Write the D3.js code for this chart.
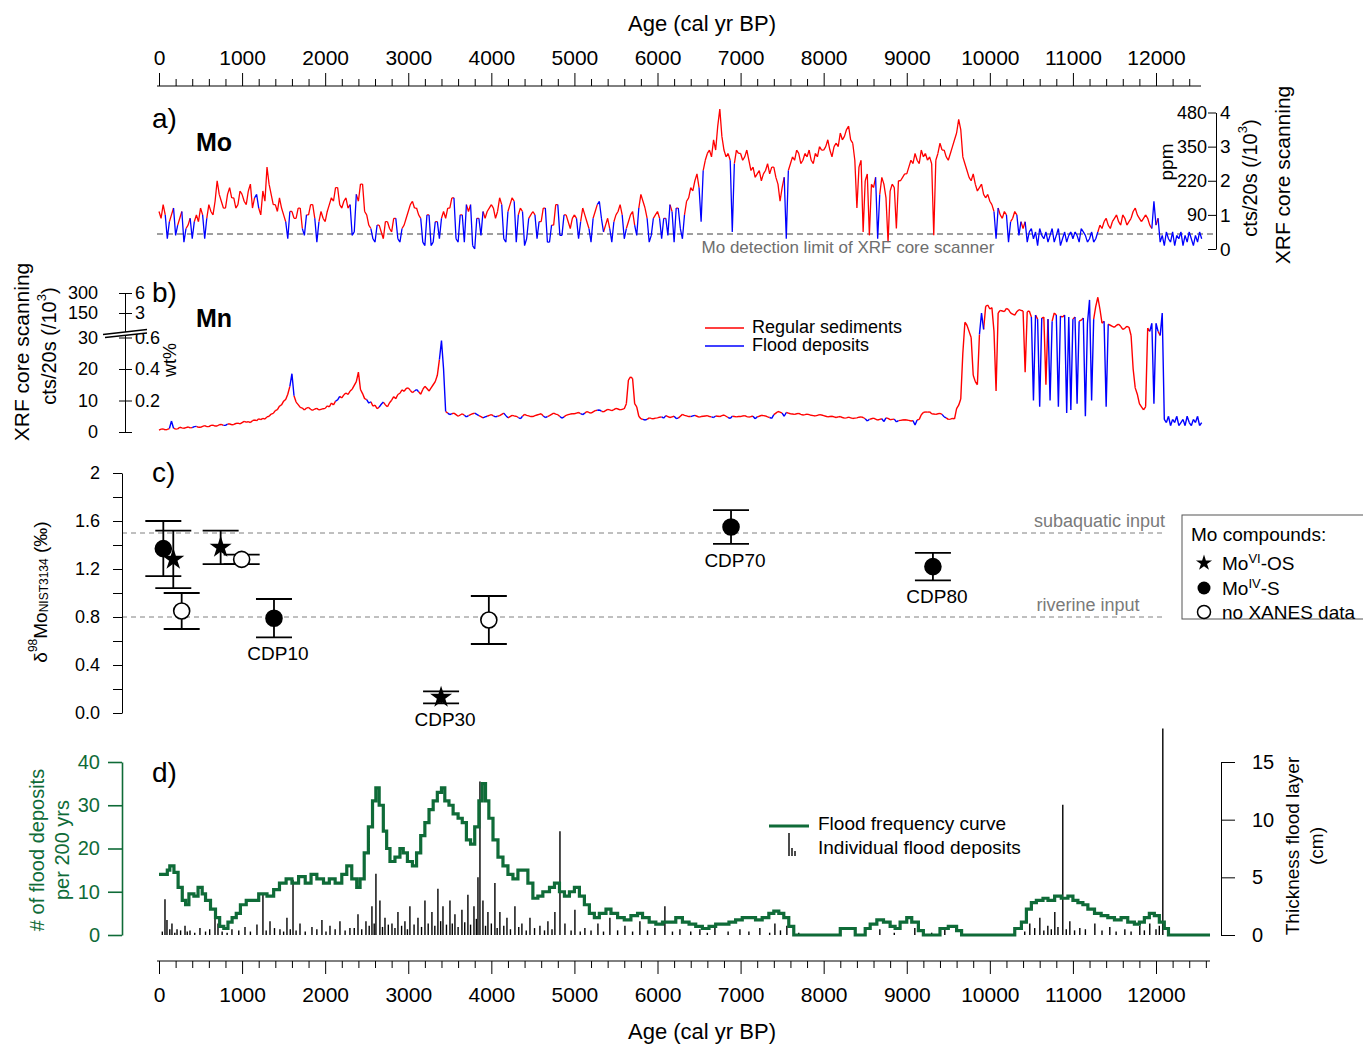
<!DOCTYPE html>
<html>
<head>
<meta charset="utf-8">
<script src="https://cdn.jsdelivr.net/npm/d3@7"></script>
<style>
  body { margin: 0; background: #fff; }
  text { font-family: "Liberation Sans", Arial, Helvetica, sans-serif; }
</style>
</head>
<body>
<div id="chart"></div>
<script>
// ---------- data ----------
const ageMajor = [0, 1000, 2000, 3000, 4000, 5000, 6000, 7000, 8000, 9000, 10000, 11000, 12000];
const sampleStep = 25; // XRF series read every 25 yr from 0 cal yr BP

// Mo counts (x1000 cts/20s), one line per 1000 yr
const moCounts = [
  1.1,0.9,1.3,1.0,0.3,0.8,1.0,1.2,0.4,0.7, 0.9,1.1,0.2,0.6,0.7,0.9,0.3,0.8,1.0,0.8, 1.2,1.0,0.3,0.9,1.3,1.1,1.0,1.4,2.0,1.6, 1.4,1.2,1.2,1.6,1.8,1.5,1.5,1.2,1.3,1.7,
  1.6,1.4,1.3,1.7,1.9,1.2,1.5,1.6,1.2,1.0, 1.7,1.4,2.4,1.9,1.6,1.3,1.3,1.1,1.5,1.2, 1.0,0.8,0.3,1.1,1.1,0.9,0.9,1.2,1.2,0.6, 0.4,1.0,1.0,1.3,1.3,0.9,0.2,0.8,1.1,0.9,
  0.8,1.1,1.3,1.5,1.4,1.8,1.8,1.3,1.2,1.4, 1.5,1.2,1.3,0.4,0.5,1.6,1.4,1.9,1.9,1.1, 1.0,0.7,0.6,0.3,0.2,0.7,0.7,0.5,0.3,0.8, 0.8,0.6,0.5,0.9,0.9,0.3,0.2,0.6,0.7,0.9,
  1.1,1.3,1.4,1.2,1.2,1.0,0.9,0.2,0.1,1.0, 1.0,0.1,0.2,0.8,0.8,0.3,0.9,1.1,0.9,1.2, 1.2,1.5,1.5,0.3,0.2,1.0,1.0,0.2,1.3,1.1, 1.3,0.1,0.0,0.9,0.9,0.4,1.1,0.9,1.1,1.2,
  1.3,1.2,0.9,1.1,1.5,1.3,0.3,0.2,1.1,1.3, 1.5,1.4,0.2,1.0,1.2,1.1,0.1,0.3,0.9,1.0, 1.1,1.0,0.3,0.8,0.8,1.2,1.2,0.2,0.2,0.7, 0.7,1.3,1.3,0.4,0.4,1.0,1.0,0.8,0.6,0.9,
  1.0,0.9,0.3,0.8,1.2,1.0,0.8,0.6,0.2,0.9, 1.1,1.3,1.4,0.9,0.5,0.7,0.9,0.6,0.2,0.8, 1.0,1.1,1.3,1.0,0.3,0.6,0.8,1.0,1.1,0.7, 0.4,1.2,1.6,1.4,1.2,0.9,0.2,0.4,0.9,1.0,
  1.1,0.9,0.3,0.9,0.9,0.4,1.3,1.1,0.2,1.2, 1.2,0.6,0.3,1.0,1.4,1.5,1.8,1.7,2.0,2.2, 1.8,0.8,2.3,2.6,2.8,2.9,2.7,3.2,2.9,3.6, 4.1,3.3,2.9,2.7,2.8,2.6,0.5,2.5,2.9,2.8,
  2.8,2.6,2.7,2.9,2.6,2.3,2.4,2.1,2.2,2.3, 2.0,2.2,2.3,2.5,2.2,2.4,2.4,2.1,1.9,1.4, 1.8,2.1,0.3,2.3,2.5,2.7,2.6,2.9,2.8,2.5, 2.6,2.8,2.7,2.9,2.6,2.5,2.8,2.7,3.0,2.9,
  2.9,3.0,3.2,2.9,2.7,3.0,3.1,3.0,3.4,3.2, 3.3,3.5,3.6,3.2,3.1,2.6,1.2,2.4,2.6,0.5, 2.0,2.2,0.4,1.9,1.8,2.1,0.3,1.6,2.1,1.9, 1.5,0.2,1.7,1.9,1.8,0.6,2.0,2.0,2.1,2.2,
  2.2,2.4,2.6,2.5,2.8,2.6,2.5,2.9,2.7,2.8, 2.6,2.7,2.5,0.4,2.6,2.8,3.1,2.9,2.9,2.7, 2.6,2.8,3.0,3.2,3.4,3.8,3.5,2.7,2.5,2.3, 2.1,2.0,2.2,1.9,1.7,1.8,1.9,1.6,1.5,1.6,
  1.4,1.3,1.1,0.3,1.2,1.0,0.9,1.1,1.0,0.2, 0.8,0.9,1.1,1.0,0.4,0.8,0.6,0.8,0.2,0.5, 0.6,0.3,0.5,0.1,0.6,0.4,0.3,0.5,0.2,0.4, 0.6,0.2,0.4,0.6,0.1,0.3,0.5,0.2,0.4,0.5,
  0.3,0.5,0.4,0.2,0.6,0.5,0.4,0.2,0.3,0.5, 0.2,0.3,0.5,0.7,0.6,0.8,0.9,0.7,0.6,0.8, 0.9,1.0,0.8,0.7,1.0,0.9,0.7,0.8,0.9,1.1, 1.2,1.0,0.9,0.8,0.9,1.0,0.9,0.7,0.6,1.4,
  0.7,0.9,0.2,0.4,0.1,0.5,0.3,0.2,0.5,0.1, 0.4,0.3,0.5,0.1,0.4,0.2,0.5,0.3,0.1,0.4, 0.2,0.5,0.3
];
// 1 = sample from a flood deposit
const moFlood =
  "0000100010" + "0010001000" + "0010000000" + "0000000000" +
  "0000000100" + "0000000000" + "0010000000" + "1000001000" +
  "0000000000" + "0001100000" + "0001100000" + "0000011000" +
  "0000000110" + "0110010000" + "0001100100" + "0110010000" +
  "0000001100" + "0010001100" + "0010000110" + "0001100000" +
  "0010000010" + "0011000010" + "0000100000" + "1000001100" +
  "0010010010" + "0110000000" + "0100000000" + "0000001000" +
  "0000000000" + "0000000000" + "0010000000" + "0000000000" +
  "0000000000" + "0000000000" + "0000001000" + "0000000000" +
  "0000000000" + "0000000000" + "0000000000" + "0000000000" +
  "0001000001" + "0000100010" + "1101110111" + "1110111011" +
  "1101111011" + "1100000000" + "0000000000" + "0000000001" +
  "0011111111" + "1111111111" + "111";

// Mn counts (x1000 cts/20s)
const mnCounts = [
  0.6,0.9,1.0,0.7,0.8,1.1,3.5,1.2,0.9,1.0, 1.5,1.3,1.2,1.4,1.6,1.3,1.4,1.7,1.8,1.5, 1.5,1.8,2.0,1.7,1.7,2.1,2.2,1.9,1.9,2.3, 2.4,2.1,2.1,2.5,2.6,2.3,2.4,2.7,2.8,2.6,
  3.0,3.4,3.1,3.3,3.0,3.6,3.8,3.6,4.2,3.9, 4.3,4.1,4.8,5.0,5.7,5.9,6.8,7.1,8.2,8.6, 9.8,10.3,12.0,14.5,18.5,11.5,9.5,8.7,7.8,7.6, 7.0,7.6,7.8,7.2,6.9,7.3,7.5,7.0,7.2,7.4,
  7.5,8.3,8.0,9.2,8.6,9.8,10.2,11.3,10.8,11.8, 12.4,11.9,13.0,13.6,14.8,16.0,19.0,13.5,12.2,10.6, 10.3,9.2,9.6,8.2,8.5,7.4,7.9,8.8,9.5,8.6, 8.0,9.3,10.1,11.2,10.6,11.9,12.3,13.4,12.9,13.8,
  14.0,13.2,12.5,13.0,13.5,12.8,12.0,13.5,14.5,13.8, 13.0,14.0,15.0,16.0,18.0,23.0,29.0,20.0,6.5,6.0, 5.5,5.8,6.0,5.5,5.0,5.4,5.8,5.3,4.8,5.2, 5.5,5.8,6.0,5.6,5.2,4.9,4.5,4.8,5.0,5.3,
  5.5,5.1,4.8,5.0,5.2,5.6,6.0,5.2,4.5,4.9, 5.3,5.1,5.0,4.6,4.2,5.0,5.6,5.3,5.1,4.9, 4.9,5.2,5.4,5.6,5.8,5.1,4.6,4.9,5.2,5.6, 6.0,5.7,5.5,4.9,4.4,4.8,5.3,5.5,5.7,5.8,
  5.8,6.0,6.2,5.8,5.5,6.0,6.5,6.2,6.0,6.4, 6.8,6.9,7.0,6.6,6.4,6.8,7.2,7.0,6.8,7.1, 7.5,7.3,7.0,7.2,7.4,9.0,16.5,17.5,17.0,9.0, 8.0,5.0,4.2,4.0,3.8,4.0,4.5,4.3,4.2,4.4,
  4.5,4.7,4.8,4.4,5.2,4.9,4.6,4.8,5.0,4.3, 4.4,5.0,5.6,5.3,5.1,4.9,4.9,5.1,5.3,5.0, 4.7,4.9,5.0,5.1,5.2,4.9,4.8,4.6,5.1,5.0, 4.9,5.2,5.4,5.0,4.6,4.3,5.0,4.9,4.8,4.9,
  4.9,5.1,5.2,4.9,4.7,4.9,5.0,4.2,4.8,5.0, 5.3,5.2,5.1,4.8,4.6,4.3,5.5,6.0,6.5,6.3, 6.0,5.0,6.2,6.0,5.8,5.7,5.6,5.8,5.9,5.6, 5.4,5.5,5.7,5.5,5.3,5.2,5.1,5.3,5.5,5.4,
  5.2,5.0,4.8,4.9,5.0,4.8,4.6,4.8,4.9,4.6, 4.4,4.5,4.7,4.5,4.3,4.4,4.5,4.7,4.8,4.6, 4.2,3.5,4.0,4.2,4.4,4.1,3.8,4.0,4.2,3.3, 4.5,4.3,3.9,4.0,4.1,3.2,3.6,3.7,3.8,3.9,
  3.8,3.7,3.5,3.6,2.2,3.8,4.0,5.5,6.2,6.4, 6.3,6.4,5.8,5.7,5.6,5.8,5.9,5.6,4.8,4.5, 4.0,4.1,4.3,4.2,7.4,8.5,10.5,25,105,90, 60,30,18,16,15,45,150,70,200,210,
  180,190,60,13,150,170,165,160,185,175, 150,145,140,160,175,170,165,19,160,165, 130,10,140,120,8,125,130,15,120,10, 110,150,140,8,135,130,140,6,130,7,
  120,130,9,110,115,125,5,100,248,10, 120,200,268,180,100,110,8,95,90,85, 80,90,95,85,70,75,85,80,40,20, 14,12,9,8,7,8,76,60,100,9,
  100,60,40,150,4,3,5,2,4,3, 5,2,3,4,2,5,3,2,4,3, 5,2,3
];
const mnFlood =
  "0000001000" + "0000000100" + "0000000000" + "0010000000" +
  "0000000000" + "0000000000" + "0000100000" + "0000000000" +
  "0000001000" + "0000000000" + "0100000100" + "0000000000" +
  "0000100000" + "0000001100" + "1000000010" + "0001000100" +
  "0010000100" + "0000100000" + "0000001000" + "0000100000" +
  "0000100000" + "0010000000" + "0000000000" + "0000100000" +
  "0001000001" + "0000000100" + "0000000100" + "0000010000" +
  "0000000100" + "0000010000" + "0100000000" + "0000000000" +
  "0000000000" + "0000000000" + "0100000001" + "0000010000" +
  "0000100000" + "0000000010" + "0000000000" + "0000001000" +
  "0000000000" + "0000000000" + "0100100001" + "0001000101" +
  "0010001111" + "0000001000" + "0000000000" + "0000000011" +
  "1001111111" + "1111111111" + "111";

const moTicks = [0, 1, 2, 3, 4];
const moPpm = ["", "90", "220", "350", "480"];
const mnTicks = [0, 10, 20, 30, 150, 300];
const mnWt = ["", "0.2", "0.4", "0.6", "3", "6"];
const moDetection = 0.44;

// delta98Mo
const isoAge   = [52, 172, 273, 742, 995, 1384, 3395, 3970, 6885, 9315];
const isoVal   = [1.37, 1.28, 0.85, 1.38, 1.28, 0.79, 0.13, 0.775, 1.55, 1.22];
const isoErr   = [0.23, 0.24, 0.15, 0.14, 0.04, 0.16, 0.05, 0.20, 0.14, 0.115];
const isoType  = ["S", "OS", "none", "OS", "none", "S", "OS", "none", "S", "S"];
const isoLabel = ["", "", "", "", "", "CDP10", "CDP30", "", "CDP70", "CDP80"];
const isoTicks = [0, 0.2, 0.4, 0.6, 0.8, 1.0, 1.2, 1.4, 1.6, 1.8, 2.0];
const isoTickLabels = ["0.0", "", "0.4", "", "0.8", "", "1.2", "", "1.6", "", "2"];
const subaquatic = 1.5, riverine = 0.8;

// flood frequency (# per 200 yr), [age, count]
const floodFreq = [
  [0,14],[100,15],[130,16],[180,14.5],[230,11],[280,8],[320,7],[360,9.5],[420,9],[470,11],
  [520,9.5],[560,8],[620,6],[680,4],[730,2],[780,1.5],[830,3],[880,4],[930,5],[980,7],
  [1050,8],[1150,8],[1200,9.5],[1300,9],[1380,10.5],[1450,12],[1530,13],[1600,12],[1680,13.5],[1760,12],
  [1830,14],[1900,13],[1980,12],[2050,13],[2120,12],[2200,14],[2260,16],[2320,13],[2380,11],[2420,13],
  [2470,19],[2520,25],[2570,31],[2610,34],[2650,30],[2700,24],[2740,20],[2780,17],[2840,18],[2900,20],
  [2940,19],[2990,17],[3050,16],[3100,19],[3150,23],[3200,26],[3250,29],[3300,31],[3350,33],[3400,34],
  [3440,31],[3490,30],[3540,28],[3600,27],[3650,26],[3700,22],[3750,21],[3800,25],[3850,31],[3890,35],
  [3930,31],[3970,27],[4020,22],[4080,18],[4140,16],[4200,14],[4260,13],[4320,15],[4380,15],[4440,12],
  [4500,8.5],[4560,9],[4620,10],[4700,11],[4760,12],[4820,10],[4880,9],[4940,10],[5000,11],[5060,9],
  [5120,7],[5180,5],[5240,4],[5300,5],[5380,6],[5440,5],[5520,4],[5600,3.5],[5680,4.5],[5760,5],
  [5820,4],[5900,3],[5980,2.5],[6060,3],[6140,3],[6220,4],[6300,3],[6380,2.5],[6460,2],[6540,1.5],
  [6620,2],[6700,2.5],[6780,2.5],[6860,3],[6940,3.5],[7020,4],[7100,4],[7180,3.5],[7260,4],[7340,5],
  [7400,5.5],[7460,5],[7520,4],[7580,2],[7640,0],[8200,1.5],[8300,1.5],[8380,0],[8500,1.5],[8560,2.5],
  [8640,3.5],[8720,3],[8800,2],[8860,1.5],[8920,3],[9000,4],[9060,3],[9140,1],[9200,0],[9400,1.5],
  [9500,2],[9600,1],[9660,0],[10300,1.5],[10380,3],[10440,6],[10500,7.5],[10560,8],[10640,8.5],[10700,8],
  [10780,9],[10860,8.5],[10940,9],[11000,8],[11060,7.5],[11120,7],[11180,6],[11260,5],[11340,4.5],[11420,4],
  [11500,3.5],[11580,4],[11660,3],[11740,2.5],[11800,3],[11860,4],[11920,5],[11980,4.5],[12040,3],[12100,1.5],
  [12150,0],[12650,0]
];
const freqTicks = [0, 10, 20, 30, 40];

// individual flood deposits, [age, thickness cm]
const floodDeposits = [
  [72,3.1],[96,1.3],[156,1.0],[217,0.5],[313,0.8],[373,0.4],[493,0.6],[674,2.2],[710,1.0],[878,0.5],
  [1035,0.7],[1179,0.9],[1251,3.5],[1336,1.2],[1456,0.5],[1540,1.5],[1613,4.8],[1697,1.0],[1841,0.7],[1961,1.3],
  [2058,0.8],[2178,1.2],[2298,0.6],[2395,1.8],[2491,1.2],[2563,2.5],[2611,5.3],[2659,3.0],[2720,1.5],[2804,1.0],
  [2876,2.0],[2960,1.2],[3020,2.5],[3117,1.5],[3201,3.0],[3285,2.0],[3357,4.0],[3418,2.5],[3502,3.0],[3562,1.8],
  [3646,2.2],[3718,3.5],[3791,2.5],[3839,5.0],[3863,13.3],[3899,3.0],[3959,2.0],[4043,4.5],[4103,2.0],[4188,1.5],
  [4284,2.5],[4368,1.0],[4465,1.5],[4585,0.8],[4681,1.2],[4765,2.0],[4826,9.0],[4886,1.0],[5006,2.2],[5126,0.6],
  [5283,1.0],[5427,1.5],[5608,0.8],[5788,1.2],[5969,0.6],[6089,2.5],[6270,0.5],[6510,0.5],[6691,0.8],[6992,0.5],
  [7232,0.6],[7413,1.0],[7557,0.8],[8676,0.5],[9097,0.6],[9458,0.5],[10481,1.0],[10602,1.5],[10698,0.8],[10782,2.0],
  [10878,11.3],[10963,1.2],[11083,0.6],[11264,1.0],[11444,0.7],[11625,0.5],[11805,0.8],[11925,1.0],[12082,17.9],
  [40,0.3],[130,0.5],[190,0.2],[260,0.4],[340,0.3],[430,0.2],[560,0.3],[610,0.5],[760,0.3],[820,0.2],
  [960,0.4],[1100,0.3],[1290,0.4],[1390,0.6],[1500,0.3],[1580,0.5],[1650,0.4],[1760,0.3],[1900,0.5],[2010,0.3],
  [2120,0.5],[2240,0.4],[2350,0.6],[2440,0.5],[2530,0.8],[2590,1.0],[2690,0.7],[2760,0.9],[2840,0.6],[2920,0.8],
  [2990,0.5],[3070,0.9],[3160,0.7],[3240,1.0],[3320,0.8],[3390,1.2],[3460,0.9],[3530,1.0],[3600,0.7],[3680,1.1],
  [3750,0.9],[3820,1.4],[3930,0.8],[4000,1.0],[4070,0.6],[4150,0.8],[4230,0.5],[4330,0.7],[4420,0.4],[4520,0.6],
  [4640,0.4],[4730,0.5],[4960,0.4],[5070,0.3],[5200,0.4],[5350,0.3],[5520,0.4],[5700,0.3],[5880,0.4],[6180,0.3],
  [6400,0.3],[6600,0.2],[6850,0.3],[7100,0.3],[7350,0.2],[7480,0.4],[7700,0.2],[8850,0.2],[9300,0.2],[10420,0.3],
  [10540,0.6],[10650,0.4],[10740,0.5],[10820,0.7],[10920,0.5],[11020,0.4],[11150,0.5],[11350,0.4],[11520,0.3],[11700,0.3],
  [11860,0.4],[12000,0.5],[12040,0.8]
];
const thickTicks = [0, 5, 10, 15];

// ---------- chart ----------
const W = 1363, H = 1044;
const RED = "#ff0000", BLUE = "#0000ff", GREEN = "#0f6b38", GREY = "#808080";
const svg = d3.select("#chart").append("svg").attr("width", W).attr("height", H);

const x = d3.scaleLinear().domain([0, 12000]).range([159, 1156]);

function styleText(sel, size) {
  sel.selectAll("text").attr("font-size", size)
    .attr("font-family", '"Liberation Sans", Arial, sans-serif').attr("fill", "#000");
}

function ageAxis(yPos, top, lineEnd, minorEnd) {
  const g = svg.append("g").attr("transform", `translate(0,${yPos})`);
  const ax = top ? d3.axisTop : d3.axisBottom;
  const minor = d3.range(0, minorEnd + 1, 200).filter(d => d % 1000 !== 0);
  g.append("g").call(ax(x).tickValues(minor).tickSize(7).tickFormat(""))
    .call(s => s.select(".domain").remove());
  const major = g.append("g")
    .call(ax(x).tickValues(ageMajor).tickSize(13).tickPadding(top ? 8 : 13).tickFormat(d3.format("d")))
    .call(s => s.select(".domain").remove());
  styleText(major, 21);
  g.append("line").attr("x1", 157).attr("x2", lineEnd).attr("stroke", "#000");
  svg.append("text").attr("x", 702).attr("y", top ? 31 : 1039).attr("text-anchor", "middle")
    .attr("font-size", 22).text("Age (cal yr BP)");
}
ageAxis(86, true, 1201, 12400);
ageAxis(961, false, 1210, 12600);

function rotText(cx, cy, txt, size, color) {
  return svg.append("text").attr("transform", `translate(${cx},${cy}) rotate(-90)`)
    .attr("text-anchor", "middle").attr("dominant-baseline", "central")
    .attr("font-size", size).attr("fill", color || "#000").text(txt);
}
function ctsLabel(t) {
  t.append("tspan").text("cts/20s (/10");
  t.append("tspan").attr("font-size", 13).attr("dy", -8).text("3");
  t.append("tspan").attr("dy", 8).text(")");
}
function panelLabel(lbl, y) {
  svg.append("text").attr("x", 152).attr("y", y).attr("font-size", 28).text(lbl);
}

// segmented red / blue record
function drawRecord(vals, flags, y, width) {
  const pts = vals.map((v, i) => ({ a: i * sampleStep, v: v, f: flags[i] === "1" }));
  const line = d3.line().x(d => x(d.a)).y(d => y(d.v));
  const segs = d3.pairs(pts).map(([p, q]) => ({ pts: [p, q], blue: p.f || q.f }));
  const g = svg.append("g").attr("fill", "none").attr("stroke-width", width).attr("stroke-linejoin", "round");
  g.append("path").attr("stroke", RED).attr("d", segs.filter(s => !s.blue).map(s => line(s.pts)).join(""));
  g.append("path").attr("stroke", BLUE).attr("d", segs.filter(s => s.blue).map(s => line(s.pts)).join(""));
}

// ---- panel a: Mo ----
const yMo = d3.scaleLinear().domain([0, 4]).range([249, 112.5]);
svg.append("line").attr("x1", 157).attr("x2", 1216)
  .attr("y1", yMo(moDetection)).attr("y2", yMo(moDetection))
  .attr("stroke", GREY).attr("stroke-width", 1.5).attr("stroke-dasharray", "6,4");
drawRecord(moCounts, moFlood, yMo, 1.3);
const gA = svg.append("g").attr("transform", "translate(1216,0)")
  .call(d3.axisLeft(yMo).tickValues(moTicks).tickSize(8).tickSizeOuter(0).tickPadding(1)
    .tickFormat((d, i) => moPpm[i]));
styleText(gA, 18);
gA.selectAll(".rl").data(moTicks).join("text").attr("class", "rl")
  .attr("x", 4).attr("y", d => yMo(d)).attr("dy", "0.35em").attr("font-size", 19)
  .attr("text-anchor", "start").attr("fill", "#000").text(d => d);
svg.append("text").attr("x", 848).attr("y", 253).attr("text-anchor", "middle")
  .attr("font-size", 17).attr("fill", "#6e6e6e").text("Mo detection limit of XRF core scanner");
rotText(1166, 162, "ppm", 19);
rotText(1250, 178, "", 20).call(ctsLabel);
rotText(1282, 175, "XRF core scanning", 21);
panelLabel("a)", 128);
svg.append("text").attr("x", 196).attr("y", 151).attr("font-size", 25).attr("font-weight", "bold").text("Mo");

// ---- panel b: Mn ----
const yMn = d3.scaleLinear().domain([0, 30, 150, 300]).range([432, 337.5, 313, 293]);
drawRecord(mnCounts, mnFlood, yMn, 1.4);
const gBL = svg.append("g").attr("transform", "translate(125,0)")
  .call(d3.axisLeft(yMn).tickValues(mnTicks).tickSize(6).tickSizeOuter(0).tickPadding(21));
styleText(gBL, 18);
const gBR = svg.append("g").attr("transform", "translate(125,0)")
  .call(d3.axisRight(yMn).tickValues(mnTicks).tickSize(7).tickSizeOuter(0).tickPadding(3)
    .tickFormat((d, i) => mnWt[i]));
gBR.select(".domain").remove();
styleText(gBR, 18);
// axis break
svg.append("path").attr("d", "M103,334.5L147,329.5L147,333L105,337.5Z").attr("fill", "#fff");
svg.append("path").attr("d", "M103,334.5L147,329.5M105,337.5L147,333")
  .attr("stroke", "#000").attr("stroke-width", 1.3);
rotText(170, 360, "wt%", 18);
rotText(21, 352, "XRF core scanning", 21);
rotText(49, 346, "", 20).call(ctsLabel);
panelLabel("b)", 302);
svg.append("text").attr("x", 196).attr("y", 327).attr("font-size", 25).attr("font-weight", "bold").text("Mn");
const legB = [["Regular sediments", RED, 328], ["Flood deposits", BLUE, 346]];
legB.forEach(([t, c, yy]) => {
  svg.append("line").attr("x1", 705).attr("x2", 744).attr("y1", yy).attr("y2", yy)
    .attr("stroke", c).attr("stroke-width", 1.5);
  svg.append("text").attr("x", 752).attr("y", yy + 5).attr("font-size", 18).text(t);
});

// ---- panel c: delta98Mo ----
const yIso = d3.scaleLinear().domain([0, 2]).range([713, 473]);
[[subaquatic, "subaquatic input", 1165, "end"], [riverine, "riverine input", 1088, "middle"]].forEach(([v, t, tx, anc]) => {
  svg.append("line").attr("x1", 122).attr("x2", 1166).attr("y1", yIso(v)).attr("y2", yIso(v))
    .attr("stroke", GREY).attr("stroke-width", 1).attr("stroke-dasharray", "5,4");
  svg.append("text").attr("x", tx).attr("y", yIso(v) - 6).attr("text-anchor", anc)
    .attr("font-size", 18).attr("fill", "#7a7a7a").text(t);
});
const gC = svg.append("g").attr("transform", "translate(122,0)")
  .call(d3.axisLeft(yIso).tickValues(isoTicks).tickSize(9).tickSizeOuter(0).tickPadding(13)
    .tickFormat((d, i) => isoTickLabels[i]));
styleText(gC, 18);
const iso = isoAge.map((a, i) => ({ a, v: isoVal[i], e: isoErr[i], t: isoType[i], l: isoLabel[i] }));
const gPts = svg.append("g");
iso.forEach(d => {
  const cx = x(d.a), top = yIso(d.v + d.e), bot = yIso(d.v - d.e);
  gPts.append("path").attr("d", `M${cx},${top}V${bot}M${cx - 18},${top}H${cx + 18}M${cx - 18},${bot}H${cx + 18}`)
    .attr("stroke", "#000").attr("stroke-width", 1.8).attr("fill", "none");
  if (d.t === "OS") {
    gPts.append("path").attr("d", d3.symbol(d3.symbolStar, 150)())
      .attr("transform", `translate(${cx},${yIso(d.v)})`).attr("fill", "#000");
  } else {
    gPts.append("circle").attr("cx", cx).attr("cy", yIso(d.v)).attr("r", 8)
      .attr("fill", d.t === "S" ? "#000" : "#fff").attr("stroke", "#000").attr("stroke-width", 1.6);
  }
  if (d.l) {
    gPts.append("text").attr("x", cx + 4).attr("y", bot + 23).attr("text-anchor", "middle")
      .attr("font-size", 19).text(d.l);
  }
});
rotText(40, 592, "", 19).call(t => {
  t.append("tspan").text("δ");
  t.append("tspan").attr("font-size", 12).attr("dy", -7).text("98");
  t.append("tspan").attr("dy", 7).text("Mo");
  t.append("tspan").attr("font-size", 12).attr("dy", 4).text("NIST3134");
  t.append("tspan").attr("dy", -4).text(" (‰)");
});
panelLabel("c)", 482);
// legend c
const legC = svg.append("g");
legC.append("rect").attr("x", 1182).attr("y", 515).attr("width", 200).attr("height", 104)
  .attr("fill", "#fff").attr("stroke", "#555").attr("stroke-width", 1);
legC.append("text").attr("x", 1191).attr("y", 541).attr("font-size", 19).text("Mo compounds:");
legC.append("path").attr("d", d3.symbol(d3.symbolStar, 80)()).attr("transform", "translate(1204,563)");
legC.append("circle").attr("cx", 1204).attr("cy", 588).attr("r", 6.5).attr("fill", "#000");
legC.append("circle").attr("cx", 1204).attr("cy", 612).attr("r", 6.5).attr("fill", "#fff")
  .attr("stroke", "#000").attr("stroke-width", 1.5);
[["VI", "-OS", 563], ["IV", "-S", 588]].forEach(([sup, rest, yy]) => {
  const t = legC.append("text").attr("x", 1222).attr("y", yy + 7).attr("font-size", 19);
  t.append("tspan").text("Mo");
  t.append("tspan").attr("font-size", 13).attr("dy", -7).text(sup);
  t.append("tspan").attr("dy", 7).text(rest);
});
legC.append("text").attr("x", 1222).attr("y", 619).attr("font-size", 19).text("no XANES data");

// ---- panel d: floods ----
const yFreq = d3.scaleLinear().domain([0, 40]).range([935, 762]);
const yThick = d3.scaleLinear().domain([0, 15]).range([935, 762]);
svg.append("g").selectAll("line").data(floodDeposits).join("line")
  .attr("x1", d => x(d[0])).attr("x2", d => x(d[0]))
  .attr("y1", yThick(0)).attr("y2", d => yThick(d[1]))
  .attr("stroke", "#000").attr("stroke-width", 1.4);
svg.append("path").datum(floodFreq)
  .attr("d", d3.line().x(d => x(d[0])).y(d => yFreq(d[1])).curve(d3.curveStepAfter))
  .attr("fill", "none").attr("stroke", GREEN).attr("stroke-width", 3.2);
const gDL = svg.append("g").attr("transform", "translate(122,0)").attr("color", GREEN)
  .call(d3.axisLeft(yFreq).tickValues(freqTicks).tickSize(14).tickSizeOuter(0).tickPadding(8));
gDL.selectAll("line,path").attr("stroke-width", 1.6);
styleText(gDL, 20);
gDL.selectAll("text").attr("fill", GREEN);
const gDR = svg.append("g").attr("transform", "translate(1221,0)")
  .call(d3.axisRight(yThick).tickValues(thickTicks).tickSize(14).tickSizeOuter(0).tickPadding(17));
styleText(gDR, 20);
rotText(37, 850, "# of flood deposits", 20, GREEN);
rotText(62, 850, "per 200 yrs", 20, GREEN);
rotText(1292, 846, "Thickness flood layer", 19);
rotText(1316, 846, "(cm)", 19);
panelLabel("d)", 782);
svg.append("line").attr("x1", 769).attr("x2", 809).attr("y1", 826).attr("y2", 826)
  .attr("stroke", GREEN).attr("stroke-width", 3.2);
svg.append("path").attr("d", "M789,856V833M792,856V848M795,856V851")
  .attr("stroke", "#000").attr("stroke-width", 1.4);
svg.append("text").attr("x", 818).attr("y", 830).attr("font-size", 19).text("Flood frequency curve");
svg.append("text").attr("x", 818).attr("y", 854).attr("font-size", 19).text("Individual flood deposits");
</script>
</body>
</html>
